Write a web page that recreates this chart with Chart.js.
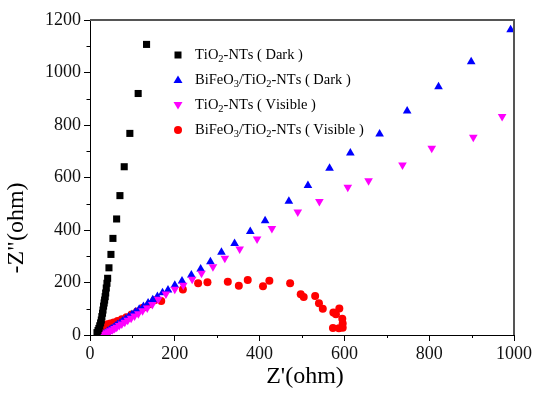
<!DOCTYPE html>
<html lang="en">
<head>
<meta charset="UTF-8">
<title>Nyquist plots</title>
<script src="https://cdn.jsdelivr.net/npm/chart.js"></script>
<style>
  body { margin: 0; background: #fff; }
  canvas { display: block; }
</style>
</head>
<body>
<canvas id="eis" width="535" height="394"></canvas>
<script>
// Z' / -Z'' pairs (ohm) for each sample
const tio2DarkRe = [16.5, 19, 21, 23, 25, 26.7, 28, 29.5, 30.6, 32, 33.3, 34.5, 35.8, 37, 38.4, 40, 41.6, 44.7, 49.4, 54.1, 62.8, 70.6, 80.7, 94, 113.6, 133.4];
const tio2DarkIm = [9, 17, 25, 35, 46, 57, 70, 83, 95, 110, 122, 133, 146, 160, 179, 197, 216, 256, 307, 368, 442, 531, 641, 768, 920, 1107];

const bfoDarkRe = [31, 33, 36, 39, 42, 46, 50, 55, 60, 65, 71, 77, 84, 91, 99, 107, 116, 126, 137, 148, 159, 171, 184, 200, 217, 239, 261, 284, 310, 341, 378, 413, 469, 514, 565, 614, 683, 748, 822, 899, 992];
const bfoDarkIm = [2, 4, 7, 10, 14, 18, 23, 28, 34, 40, 46, 53, 61, 69, 78, 88, 98, 109, 122, 134, 147, 161, 171, 190, 206, 229, 251, 279, 315, 349, 394, 435, 510, 570, 635, 693, 766, 853, 946, 1041, 1163];

const tio2VisRe = [32, 34, 37, 40, 44, 48, 53, 58, 63, 69, 75, 82, 89, 97, 105, 114, 124, 135, 147, 161, 179, 200, 220, 241, 263, 290, 318, 353, 394, 429, 490, 541, 608, 657, 737, 806, 904, 972];
const tio2VisIm = [2, 4, 6, 9, 12, 16, 20, 25, 30, 36, 42, 49, 56, 64, 72, 81, 92, 103, 116, 136, 156, 174, 190, 212, 235, 260, 292, 328, 366, 406, 469, 509, 563, 588, 648, 711, 753, 832];

const bfoVisRe = [20, 21, 23, 26, 30, 35, 41, 48, 56, 65, 75, 86, 98, 111, 125, 140, 152, 168, 219, 255, 277, 325, 351, 372, 408, 423, 472, 497, 504, 531, 540, 549, 574, 580, 588, 595, 596, 596, 587, 573];
const bfoVisIm = [4, 12, 20, 28, 34, 38, 41, 44, 48, 53, 60, 68, 78, 90, 104, 117, 132, 130, 173, 197, 201, 203, 188, 210, 186, 207, 197, 155, 145, 149, 121, 100, 86, 79, 101, 62, 44, 28, 26, 27];

// legend text, "_" marks a subscript digit
const seriesLabels = ['TiO_2-NTs ( Dark )', 'BiFeO_3/TiO_2-NTs ( Dark )', 'TiO_2-NTs ( Visible )', 'BiFeO_3/TiO_2-NTs ( Visible )'];

const xTicksMajor = [0, 200, 400, 600, 800, 1000];
const yTicksMajor = [0, 200, 400, 600, 800, 1000, 1200];
const xTicksMinor = [100, 300, 500, 700, 900];
const yTicksMinor = [100, 300, 500, 700, 900, 1100];

const toPoints = (xs, ys) => xs.map((x, i) => ({ x: x, y: ys[i] }));

const serif = '"Liberation Serif", "Times New Roman", serif';

// draws a "TiO_2" style label with lowered digits
function drawSubText(ctx, text, x, y, size) {
  let cx = x;
  for (let i = 0; i < text.length; i++) {
    if (text[i] === '_' && i + 1 < text.length) {
      ctx.font = (size * 0.72) + 'px ' + serif;
      ctx.fillText(text[i + 1], cx, y + size * 0.3);
      cx += ctx.measureText(text[i + 1]).width;
      i++;
    } else {
      ctx.font = size + 'px ' + serif;
      ctx.fillText(text[i], cx, y);
      cx += ctx.measureText(text[i]).width;
    }
  }
}

function legendMarker(ctx, style, x, y) {
  ctx.beginPath();
  if (style === 'rect') {
    ctx.rect(x - 3.5, y - 3.5, 7, 7);
  } else if (style === 'up') {
    ctx.moveTo(x, y - 4.5); ctx.lineTo(x + 4.5, y + 3); ctx.lineTo(x - 4.5, y + 3);
  } else if (style === 'down') {
    ctx.moveTo(x, y + 4.5); ctx.lineTo(x + 4.5, y - 3); ctx.lineTo(x - 4.5, y - 3);
  } else {
    ctx.arc(x, y, 4, 0, Math.PI * 2);
  }
  ctx.closePath();
  ctx.fill();
}

const decorations = {
  id: 'decorations',
  afterDraw(chart) {
    const ctx = chart.ctx;
    const a = chart.chartArea;
    const xs = chart.scales.x, ys = chart.scales.y;
    ctx.save();

    // top and right frame
    ctx.strokeStyle = '#555';
    ctx.lineWidth = 2;
    ctx.beginPath();
    ctx.moveTo(a.left, a.top);
    ctx.lineTo(a.right, a.top);
    ctx.lineTo(a.right, a.bottom);
    ctx.stroke();

    // minor ticks
    ctx.strokeStyle = '#000';
    ctx.lineWidth = 1;
    ctx.beginPath();
    xTicksMinor.forEach(v => {
      const px = Math.round(xs.getPixelForValue(v)) + 0.5;
      ctx.moveTo(px, a.bottom);
      ctx.lineTo(px, a.bottom + 3);
    });
    yTicksMinor.forEach(v => {
      const py = Math.round(ys.getPixelForValue(v)) + 0.5;
      ctx.moveTo(a.left, py);
      ctx.lineTo(a.left - 3.5, py);
    });
    ctx.stroke();

    // axis titles
    ctx.fillStyle = '#000';
    ctx.textAlign = 'center';
    ctx.textBaseline = 'middle';
    ctx.font = '24px ' + serif;
    ctx.fillText("Z'(ohm)", 305, 377);
    ctx.save();
    ctx.translate(17, 228);
    ctx.rotate(-Math.PI / 2);
    ctx.fillText('-Z"(ohm)', 0, 0);
    ctx.restore();

    // legend
    const styles = ['rect', 'up', 'down', 'circle'];
    ctx.textAlign = 'left';
    chart.data.datasets.forEach((ds, i) => {
      const y = 55 + i * 25;
      ctx.fillStyle = ds.backgroundColor;
      legendMarker(ctx, styles[i], 178, y);
      ctx.fillStyle = '#000';
      drawSubText(ctx, seriesLabels[i], 195, y, 14.5);
    });
    ctx.restore();
  }
};

new Chart(document.getElementById('eis'), {
  type: 'scatter',
  data: {
    datasets: [
      { label: seriesLabels[0], data: toPoints(tio2DarkRe, tio2DarkIm), pointStyle: 'rect', pointRadius: 5,
        backgroundColor: '#000', borderColor: '#000', borderWidth: 0, order: 0 },
      { label: seriesLabels[1], data: toPoints(bfoDarkRe, bfoDarkIm), pointStyle: 'triangle', pointRadius: 5,
        backgroundColor: '#0000ff', borderColor: '#0000ff', borderWidth: 0, order: 2 },
      { label: seriesLabels[2], data: toPoints(tio2VisRe, tio2VisIm), pointStyle: 'triangle', rotation: 180, pointRadius: 5,
        backgroundColor: '#ff00ff', borderColor: '#ff00ff', borderWidth: 0, order: 1 },
      { label: seriesLabels[3], data: toPoints(bfoVisRe, bfoVisIm), pointStyle: 'circle', pointRadius: 4,
        backgroundColor: '#ff0000', borderColor: '#ff0000', borderWidth: 0, order: 3 }
    ]
  },
  options: {
    responsive: false,
    animation: false,
    layout: { padding: { left: 0, right: 21, top: 20, bottom: 0 } },
    plugins: { legend: { display: false }, tooltip: { enabled: false } },
    scales: {
      x: {
        type: 'linear', min: 0, max: 1000,
        afterFit: s => { s.height = 59; },
        afterBuildTicks: s => { s.ticks = xTicksMajor.map(v => ({ value: v })); },
        border: { color: '#000', width: 1 },
        grid: { drawOnChartArea: false, tickLength: 6, color: '#000' },
        ticks: { color: '#111', font: { family: serif, size: 18 }, padding: 2, maxRotation: 0,
          callback: v => String(v) }
      },
      y: {
        type: 'linear', min: 0, max: 1200,
        afterFit: s => { s.width = 90; },
        afterBuildTicks: s => { s.ticks = yTicksMajor.map(v => ({ value: v })); },
        border: { color: '#000', width: 1 },
        grid: { drawOnChartArea: false, tickLength: 6, color: '#000' },
        ticks: { color: '#111', font: { family: serif, size: 18 }, padding: 3,
          callback: v => String(v) }
      }
    }
  },
  plugins: [decorations]
});
</script>
</body>
</html>
